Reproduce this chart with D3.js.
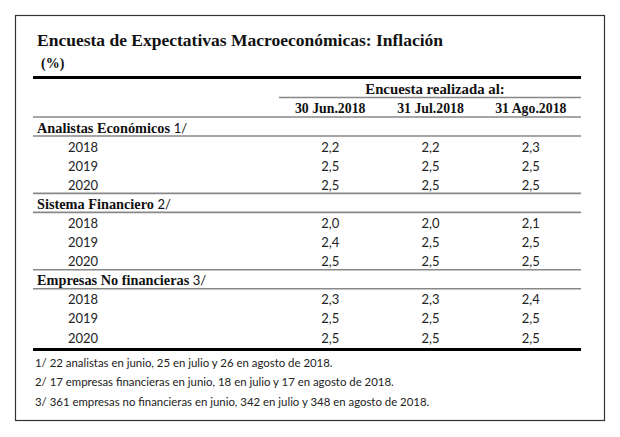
<!DOCTYPE html>
<html>
<head>
<meta charset="utf-8">
<script src="https://cdn.jsdelivr.net/npm/d3@7/dist/d3.min.js"></script>
<style>
  html, body { margin: 0; padding: 0; background: #fff; }
  svg { display: block; }
</style>
</head>
<body>
<svg id="chart" width="620" height="437"></svg>
<script>
// ---- data ----
const title = "Encuesta de Expectativas Macroeconómicas: Inflación";
const unit = "(%)";
const surveyHeader = "Encuesta realizada al:";
const columns = ["30 Jun.2018", "31 Jul.2018", "31 Ago.2018"];
const groups = ["Analistas Económicos", "Sistema Financiero", "Empresas No financieras"];
const groupNotes = ["1/", "2/", "3/"];
const years = ["2018", "2019", "2020"];
const analistas = [["2,2", "2,2", "2,3"], ["2,5", "2,5", "2,5"], ["2,5", "2,5", "2,5"]];
const sistemaFinanciero = [["2,0", "2,0", "2,1"], ["2,4", "2,5", "2,5"], ["2,5", "2,5", "2,5"]];
const empresas = [["2,3", "2,3", "2,4"], ["2,5", "2,5", "2,5"], ["2,5", "2,5", "2,5"]];
const footnotes = [
  "1/ 22 analistas en junio, 25 en julio y 26 en agosto de 2018.",
  "2/ 17 empresas financieras en junio, 18 en julio y 17 en agosto de 2018.",
  "3/ 361 empresas no financieras en junio, 342 en julio y 348 en agosto de 2018."
];
const groupValues = [analistas, sistemaFinanciero, empresas];

// ---- layout ----
const svg = d3.select("#chart");
const serif = "'Liberation Serif', serif";
const sans = "Lato, 'Open Sans', sans-serif";
const left = 33, right = 581;

// border
svg.append("rect").attr("x", 15.5).attr("y", 15.5).attr("width", 589).attr("height", 405)
  .attr("fill", "#fff").attr("stroke", "#333").attr("stroke-width", 1.2);

// title
svg.append("text").attr("x", 37).attr("y", 46)
  .attr("font-family", serif).attr("font-weight", "bold").attr("font-size", 17.5)
  .attr("fill", "#111").text(title);
svg.append("text").attr("x", 41).attr("y", 68)
  .attr("font-family", serif).attr("font-weight", "bold").attr("font-size", 14)
  .attr("fill", "#111").text(unit);

// column scale
const x = d3.scaleBand().domain(columns).range([280, 581]);
const xc = c => x(c) + x.bandwidth() / 2;

// row scale: 12 rows (3 group headers + 9 years)
const rows = [];
groups.forEach((g, gi) => {
  rows.push({type: "group", label: g, note: groupNotes[gi]});
  years.forEach((yr, yi) => rows.push({type: "year", label: yr, values: groupValues[gi][yi]}));
});
const y = d3.scaleLinear().domain([0, rows.length - 1]).range([128, 338]);

// lines
const hline = (x1, x2, yy, w, col) => svg.append("line")
  .attr("x1", x1).attr("x2", x2).attr("y1", yy).attr("y2", yy)
  .attr("stroke", col).attr("stroke-width", w);

hline(left, right, 77.5, 3, "#000");
hline(279, right, 97.5, 1.6, "#888");
hline(left, right, 117, 1.6, "#888");
rows.forEach((r, i) => {
  if (r.type === "group") {
    hline(left, right, y(i) + 8, 1.6, "#888");
    if (i > 0) hline(left, right, y(i) - 11, 1.6, "#888");
  }
});
hline(left, right, 349.5, 3, "#000");

// headers
svg.append("text").attr("x", (279 + right) / 2 + 5).attr("y", 93.5)
  .attr("text-anchor", "middle").attr("font-family", serif).attr("font-weight", "bold")
  .attr("font-size", 14.8).attr("fill", "#111").text(surveyHeader);
svg.selectAll("text.col").data(columns).join("text").attr("class", "col")
  .attr("x", d => xc(d)).attr("y", 112.5).attr("text-anchor", "middle")
  .attr("font-family", serif).attr("font-weight", "bold").attr("font-size", 13.8)
  .attr("fill", "#111").text(d => d);

// rows
rows.forEach((r, i) => {
  const yy = y(i) + 4.5;
  if (r.type === "group") {
    const t = svg.append("text").attr("x", 37).attr("y", yy)
      .attr("font-family", serif).attr("font-weight", "bold").attr("font-size", 14.3)
      .attr("fill", "#111");
    t.append("tspan").text(r.label + " ");
    t.append("tspan").attr("font-weight", "normal").attr("font-family", sans).attr("font-size", 13).text(r.note);
  } else {
    svg.append("text").attr("x", 68).attr("y", yy)
      .attr("font-family", sans).attr("font-size", 13).attr("fill", "#222").text(r.label);
    r.values.forEach((v, ci) => {
      svg.append("text").attr("x", xc(columns[ci])).attr("y", yy)
        .attr("text-anchor", "middle").attr("font-family", sans).attr("font-size", 13)
        .attr("fill", "#222").text(v);
    });
  }
});

// footnotes
const fy = d3.scaleLinear().domain([0, footnotes.length - 1]).range([362, 401]);
svg.selectAll("text.fn").data(footnotes).join("text").attr("class", "fn")
  .attr("x", 35).attr("y", (d, i) => fy(i) + 4.5)
  .attr("font-family", sans).attr("font-size", 11.4).attr("fill", "#222").text(d => d);
</script>
</body>
</html>
